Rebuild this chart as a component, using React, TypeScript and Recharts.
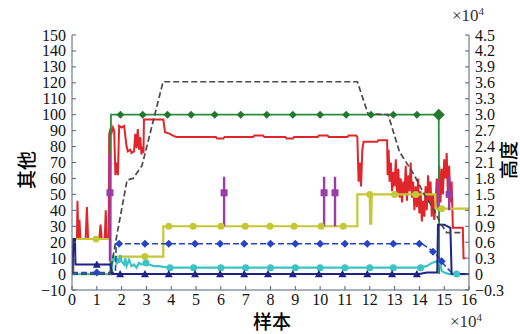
import React from "react";
import { LineChart, Line, XAxis, YAxis } from "recharts";

// x in units of 1e4 samples; left axis "其他"; right axis "高度" (x1e4)
const X_TICKS = [0, 1, 2, 3, 4, 5, 6, 7, 8, 9, 10, 11, 12, 13, 14, 15, 16];
const LEFT_TICKS = [-10, 0, 10, 20, 30, 40, 50, 60, 70, 80, 90, 100, 110, 120, 130, 140, 150];
const RIGHT_TICKS = [-0.3, 0, 0.3, 0.6, 0.9, 1.2, 1.5, 1.8, 2.1, 2.4, 2.7, 3.0, 3.3, 3.6, 3.9, 4.2, 4.5];

const RED: [number, number][] = [
  [0, 0], [0.05, 0], [0.05, 22], [0.2, 22], [0.22, 46], [0.26, 22], [0.3, 34], [0.34, 22],
  [0.55, 22], [0.6, 42], [0.65, 22], [1.1, 22], [1.15, 31], [1.2, 22], [1.32, 22], [1.36, 40],
  [1.4, 22], [1.48, 22], [1.5, 88], [1.55, 91], [1.6, 89], [1.65, 92], [1.7, 90], [1.75, 62],
  [1.8, 70], [1.85, 62], [1.9, 93], [2.0, 92], [2.1, 93], [2.2, 80], [2.25, 77], [2.35, 78],
  [2.4, 76], [2.5, 77], [2.55, 88], [2.6, 79], [2.65, 91], [2.7, 78], [2.75, 86], [2.8, 75],
  [2.85, 80], [2.88, 76], [2.9, 97], [3.68, 97], [3.75, 89], [3.95, 88], [4.05, 87], [4.2, 86],
  [5.8, 86], [5.85, 85], [6.1, 85], [6.15, 86], [7.3, 86], [7.35, 87], [7.7, 87], [7.75, 86],
  [8.6, 86], [8.65, 85], [8.9, 85], [8.95, 86], [9.9, 86], [9.95, 87], [10.3, 87], [10.35, 86],
  [11.1, 86], [11.15, 87], [11.45, 87], [11.5, 86], [11.55, 58], [11.6, 70], [11.65, 55],
  [11.7, 78], [11.75, 83], [12.3, 83], [12.35, 84], [12.7, 84], [12.72, 62], [12.76, 78],
  [12.8, 58], [12.85, 70], [12.9, 52], [12.95, 64], [13.0, 55], [13.05, 72], [13.1, 50],
  [13.15, 66], [13.2, 48], [13.25, 60], [13.3, 45], [13.35, 58], [13.4, 50], [13.45, 68],
  [13.5, 46], [13.55, 62], [13.6, 52], [13.65, 70], [13.7, 48], [13.75, 58], [13.8, 40],
  [13.85, 55], [13.9, 42], [13.95, 60], [14.0, 38], [14.05, 52], [14.1, 33], [14.15, 46],
  [14.2, 36], [14.25, 55], [14.3, 40], [14.35, 62], [14.4, 45], [14.45, 58], [14.5, 36],
  [14.55, 50], [14.6, 34], [14.65, 44], [14.7, 60], [14.75, 40], [14.8, 68], [14.85, 45],
  [14.9, 66], [14.95, 50], [15.0, 72], [15.05, 60], [15.1, 76], [15.15, 50], [15.2, 68],
  [15.25, 45], [15.3, 58], [15.35, 29], [15.75, 29], [15.78, 10], [15.85, 10],
];

const GREEN: [number, number][] = [[0, 0], [1.55, 0], [1.57, 100], [14.78, 100], [14.8, 0]];
const GREEN_MARKS: [number, number][] = [
  [1.95, 100], [2.85, 100], [3.85, 100], [4.8, 100], [5.75, 100], [6.8, 100], [7.85, 100],
  [8.9, 100], [10.0, 100], [11.05, 100], [12.05, 100], [12.95, 100], [13.9, 100],
];
const GREEN_END: [number, number][] = [[14.78, 100]];

// altitude, right axis (x1e4)
const ALT: [number, number][] = [
  [0, 0], [1.53, 0], [1.85, 0.84], [2.22, 1.77], [2.46, 1.8], [2.82, 2.04], [3.67, 3.62],
  [11.5, 3.62], [11.93, 3.02], [12.74, 3.0], [13.2, 2.3], [13.75, 1.9], [14.2, 1.5],
  [14.6, 1.2], [14.85, 0.96], [15.1, 0.78], [15.75, 0.78],
];

const YELLOW: [number, number][] = [
  [0.04, 0], [0.04, 22], [1.57, 22], [1.57, 11], [3.68, 11], [3.68, 30], [11.5, 30], [11.5, 50],
  [12.0, 50], [12.02, 31], [12.04, 50], [12.06, 31], [12.08, 50], [14.65, 50], [14.65, 41], [16, 41],
];
const YELLOW_MARKS: [number, number][] = [
  [0.97, 22], [2.94, 11], [3.9, 30], [4.88, 30], [6.0, 30], [6.98, 30], [7.98, 30], [8.95, 30],
  [10.04, 30], [10.93, 30], [12.0, 50], [13.0, 50], [13.85, 50], [14.9, 41],
];

const BLUE: [number, number][] = [
  [0, 1], [1.75, 1], [1.78, 19], [14.1, 19], [14.4, 16], [14.7, 12], [14.9, 8], [15.1, 4],
  [15.3, 1], [15.5, 0], [16, 0],
];
const BLUE_MARKS: [number, number][] = [
  [1.0, 1], [1.9, 19], [2.94, 19], [3.9, 19], [4.96, 19], [5.97, 19], [6.94, 19], [8.0, 19],
  [9.0, 19], [10.0, 19], [11.0, 19], [11.9, 19], [12.95, 19], [14.0, 19], [14.55, 14], [14.9, 8],
];

const NAVY: [number, number][] = [
  [0.02, 0], [0.06, 22], [0.12, 22], [0.14, 6], [1.55, 6], [1.62, 0], [14.0, 0], [14.3, 1],
  [14.72, 1], [14.75, 31], [15.0, 31], [15.25, 29], [15.3, 0], [16, 0],
];
const NAVY_MARKS: [number, number][] = [
  [1.0, 6], [1.94, 0], [2.94, 0], [3.9, 0], [4.96, 0], [5.97, 0], [6.94, 0], [7.9, 0], [8.9, 0],
  [9.95, 0], [10.9, 0], [11.9, 0], [12.9, 0], [13.9, 0],
];

const CYAN: [number, number][] = [
  [0, 0], [1.6, 0], [1.65, 12], [1.7, 8], [1.75, 11], [1.8, 6], [1.85, 10], [1.9, 7], [1.95, 12],
  [2.0, 8], [2.1, 6], [2.15, 10], [2.2, 5], [2.3, 9], [2.4, 5], [2.5, 6], [2.6, 4], [2.7, 7],
  [2.8, 6], [3.0, 7], [3.1, 6], [3.3, 5], [3.5, 5], [3.7, 4.5], [4.0, 4], [14.0, 4], [14.3, 5],
  [14.5, 7], [14.7, 8], [14.85, 6], [14.9, 2], [15.0, 1], [15.2, 0], [16, 0],
];
const CYAN_MARKS: [number, number][] = [
  [2.98, 7], [3.95, 4], [4.9, 4], [6.0, 4], [7.0, 4], [8.0, 4], [9.0, 4], [10.0, 4], [11.0, 4],
  [12.0, 4], [12.95, 4], [14.05, 4], [15.5, 0],
];

// vertical flag bars (null splits them)
const PURPLE: [number, number | null][] = [
  [1.53, 8], [1.53, 75], [1.53, null], [6.13, 30], [6.13, 61], [6.13, null],
  [10.16, 30], [10.16, 61], [10.16, null], [10.6, 30], [10.6, 61], [10.6, null],
  [14.75, 42], [14.75, 59], [14.75, null], [15.2, 40], [15.2, 61],
];
const PURPLE_MARKS: [number, number][] = [[1.53, 51], [6.13, 51], [10.16, 51], [10.6, 51], [15.2, 50]];

const C = {
  red: "#e0262a",
  green: "#2e8a3c",
  alt: "#4a4a4a",
  yellow: "#c4c736",
  blue: "#2844c4",
  navy: "#1f2388",
  cyan: "#3cc4c4",
  purple: "#9c3ca8",
  axis: "#4f6478",
};

const SERIF = "'Liberation Serif', serif";
const CJK = "'Noto Sans CJK SC', sans-serif";

const pts = (a: [number, number | null][]) => a.map(([x, y]) => ({ x, y }));

type Shape = "diamond" | "circle" | "triangle" | "square";

const marker = (shape: Shape, fill: string, s: number) => (props: any) => {
  const { cx, cy, key } = props;
  if (cx == null || cy == null || Number.isNaN(cy)) return <g key={key} />;
  if (shape === "circle") return <circle key={key} cx={cx} cy={cy} r={s} fill={fill} />;
  if (shape === "square")
    return <rect key={key} x={cx - s} y={cy - s} width={2 * s} height={2 * s} fill={fill} />;
  if (shape === "triangle")
    return <path key={key} d={`M${cx},${cy - s}L${cx + s},${cy + s * 0.8}L${cx - s},${cy + s * 0.8}Z`} fill={fill} />;
  return <path key={key} d={`M${cx},${cy - s}L${cx + s},${cy}L${cx},${cy + s}L${cx - s},${cy}Z`} fill={fill} />;
};

const fmtLeft = (v: number) => String(v).replace("-", "\u2212");
const fmtRight = (v: number) => (v === 0 ? "0" : v.toFixed(1).replace("-", "\u2212"));

// tick text in a Times-like face; anchor depends on the axis side
const Tick = ({ x, y, payload, anchor, fmt, dy }: any) => (
  <text x={x} y={y} dy={dy} textAnchor={anchor} style={{ fontFamily: SERIF, fontSize: 16, fill: "#111" }}>
    {fmt ? fmt(payload.value) : payload.value}
  </text>
);

export default function App() {
  const line = (data: any, color: string, width: number, dash?: string, axis = "left") => ({
    data: pts(data),
    dataKey: "y",
    stroke: color,
    strokeWidth: width,
    strokeDasharray: dash,
    dot: false,
    activeDot: false,
    isAnimationActive: false,
    yAxisId: axis,
    type: "linear" as const,
  });
  const marks = (data: any, shape: Shape, color: string, size: number) => ({
    data: pts(data),
    dataKey: "y",
    stroke: "none",
    dot: marker(shape, color, size),
    activeDot: false,
    isAnimationActive: false,
    yAxisId: "left",
  });

  const title = { position: "absolute" as const, font: `500 19px ${CJK}`, lineHeight: "19px", whiteSpace: "nowrap" as const };
  const sci = { position: "absolute" as const, font: `17px ${SERIF}`, lineHeight: "17px", color: "#333", whiteSpace: "nowrap" as const };

  return (
    <div style={{ position: "absolute", left: 0, top: 0, width: 520, height: 334, background: "#fff", overflow: "hidden" }}>
      <LineChart width={520} height={334} margin={{ top: 35, right: 0, bottom: 0, left: 0 }}>
        <XAxis
          dataKey="x"
          type="number"
          domain={[0, 16]}
          ticks={X_TICKS}
          interval={0}
          allowDataOverflow
          height={44}
          stroke={C.axis}
          tickSize={-4}
          tickMargin={7}
          tick={<Tick anchor="middle" dy={12} />}
        />
        <YAxis
          yAxisId="left"
          type="number"
          domain={[-10, 150]}
          ticks={LEFT_TICKS}
          interval={0}
          allowDataOverflow
          width={72}
          stroke={C.axis}
          tickSize={-4}
          tickMargin={10}
          tick={<Tick anchor="end" dy={5.5} fmt={fmtLeft} />}
        />
        <YAxis
          yAxisId="right"
          orientation="right"
          type="number"
          domain={[-0.3, 4.5]}
          ticks={RIGHT_TICKS}
          interval={0}
          allowDataOverflow
          width={51}
          stroke={C.axis}
          tickSize={-4}
          tickMargin={10}
          tick={<Tick anchor="start" dy={5.5} fmt={fmtRight} />}
        />
        <Line {...line(RED, C.red, 2)} />
        <Line {...line(GREEN, C.green, 1.8)} />
        <Line {...marks(GREEN_MARKS, "diamond", "#23782f", 4)} />
        <Line {...marks(GREEN_END, "diamond", "#23782f", 6)} />
        <Line {...line(YELLOW, C.yellow, 2.2)} />
        <Line {...marks(YELLOW_MARKS, "circle", C.yellow, 3.5)} />
        <Line {...line(CYAN, C.cyan, 2.2)} />
        <Line {...marks(CYAN_MARKS, "circle", C.cyan, 3.5)} />
        <Line {...line(BLUE, C.blue, 1.6, "6 3")} />
        <Line {...marks(BLUE_MARKS, "diamond", C.blue, 4)} />
        <Line {...line(NAVY, C.navy, 2)} />
        <Line {...marks(NAVY_MARKS, "triangle", C.navy, 4)} />
        <Line {...line(PURPLE, C.purple, 2.4)} connectNulls={false} />
        <Line {...marks(PURPLE_MARKS, "square", C.purple, 3.5)} />
        <Line {...line(ALT, C.alt, 1.7, "6 3", "right")} />
      </LineChart>

      <div style={{ ...title, left: 25, top: 170, transform: "translate(-50%,-50%) rotate(-90deg)" }}>其他</div>
      <div style={{ ...title, left: 507, top: 160, transform: "translate(-50%,-50%) rotate(-90deg)" }}>高度</div>
      <div style={{ ...title, left: 272, top: 320, transform: "translate(-50%,-50%)" }}>样本</div>
      <div style={{ ...sci, left: 452, top: 7 }}>
        ×10<sup style={{ fontSize: 11, lineHeight: 0, verticalAlign: 6 }}>4</sup>
      </div>
      <div style={{ ...sci, left: 450, top: 313 }}>
        ×10<sup style={{ fontSize: 11, lineHeight: 0, verticalAlign: 6 }}>4</sup>
      </div>
    </div>
  );
}
